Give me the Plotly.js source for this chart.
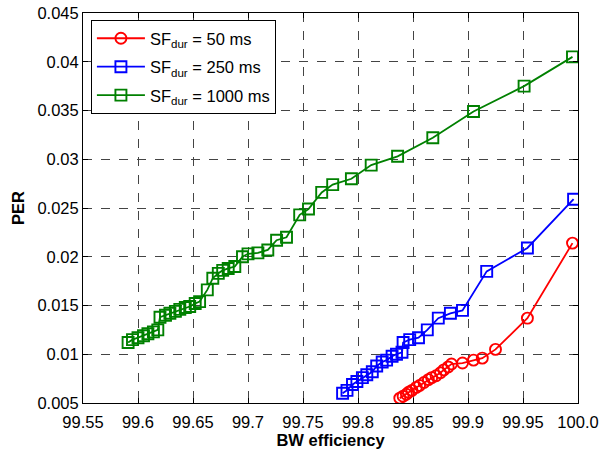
<!DOCTYPE html>
<html>
<head>
<meta charset="utf-8">
<script src="https://cdn.plot.ly/plotly-3.0.1.min.js"></script>
<style>html,body{margin:0;padding:0;background:#fff;}#chart{width:607px;height:449px;}</style>
</head>
<body>
<div id="chart"></div>
<script>
// SF_dur = 50 ms
const redX = [99.838, 99.841, 99.844, 99.846, 99.849, 99.853, 99.856, 99.860, 99.864, 99.867, 99.871, 99.875, 99.878, 99.882, 99.885, 99.895, 99.905, 99.913, 99.925, 99.954, 99.995];
const redY = [0.0055, 0.0057, 0.0059, 0.0061, 0.0063, 0.0066, 0.0068, 0.0071, 0.0074, 0.0076, 0.0078, 0.0081, 0.0084, 0.0087, 0.0090, 0.0091, 0.0094, 0.0096, 0.0105, 0.0137, 0.0214];
// SF_dur = 250 ms
const blueX = [99.786, 99.790, 99.795, 99.799, 99.804, 99.808, 99.813, 99.817, 99.822, 99.826, 99.831, 99.835, 99.840, 99.841, 99.847, 99.855, 99.863, 99.873, 99.884, 99.895, 99.917, 99.954, 99.996];
const blueY = [0.0060, 0.0063, 0.0069, 0.0072, 0.0076, 0.0079, 0.0082, 0.0088, 0.0092, 0.0094, 0.0098, 0.0100, 0.0102, 0.0112, 0.0115, 0.0117, 0.0125, 0.0137, 0.0142, 0.0145, 0.0185, 0.0209, 0.0259];
// SF_dur = 1000 ms
const greenX = [99.591, 99.595, 99.600, 99.605, 99.609, 99.614, 99.618, 99.620, 99.625, 99.629, 99.634, 99.638, 99.643, 99.647, 99.652, 99.656, 99.663, 99.668, 99.673, 99.677, 99.682, 99.688, 99.695, 99.700, 99.709, 99.718, 99.726, 99.735, 99.747, 99.755, 99.767, 99.777, 99.794, 99.812, 99.836, 99.868, 99.905, 99.951, 99.995];
const greenY = [0.0112, 0.0115, 0.0117, 0.0119, 0.0121, 0.0123, 0.0125, 0.0138, 0.0140, 0.0142, 0.0144, 0.0146, 0.0148, 0.0149, 0.0152, 0.0154, 0.0166, 0.0178, 0.0183, 0.0186, 0.0188, 0.0190, 0.0200, 0.0203, 0.0204, 0.0207, 0.0217, 0.0220, 0.0243, 0.0249, 0.0266, 0.0274, 0.0280, 0.0294, 0.0303, 0.0322, 0.0349, 0.0375, 0.0405];

const seriesNames = ['SF<sub>dur</sub> = 50 ms', 'SF<sub>dur</sub> = 250 ms', 'SF<sub>dur</sub> = 1000 ms'];
const xTickVals = [99.55, 99.6, 99.65, 99.7, 99.75, 99.8, 99.85, 99.9, 99.95, 100.0];
const xTickText = ['99.55', '99.6', '99.65', '99.7', '99.75', '99.8', '99.85', '99.9', '99.95', '100.0'];
const yTickVals = [0.005, 0.01, 0.015, 0.02, 0.025, 0.03, 0.035, 0.04, 0.045];
const yTickText = ['0.005', '0.01', '0.015', '0.02', '0.025', '0.03', '0.035', '0.04', '0.045'];

function tr(x, y, name, color, symbol, group) {
  return {
    x: x, y: y, name: name, type: 'scatter', mode: 'lines+markers', legendgroup: group,
    line: {color: color, width: 1.8},
    marker: {symbol: symbol, size: 11, color: color, line: {color: color, width: 1.9}}
  };
}

const data = [
  tr(redX, redY, seriesNames[0], '#ff0000', 'circle-open', 'g1'),
  tr(blueX, blueY, seriesNames[1], '#0000ff', 'square-open', 'g2'),
  tr(greenX, greenY, seriesNames[2], '#008000', 'square-open', 'g3')
];

const FONT = 'Liberation Sans, Arial, Helvetica, sans-serif';
const axisCommon = {
  showline: true, linecolor: '#000', linewidth: 1, mirror: 'ticks',
  ticks: 'inside', ticklen: 5, tickcolor: '#000', tickwidth: 1,
  showgrid: true, gridcolor: '#444', griddash: 'dash', gridwidth: 1,
  zeroline: false, tickfont: {family: FONT, size: 16.5, color: '#000'}
};

const layout = {
  width: 607, height: 449,
  margin: {l: 83, r: 29, t: 13, b: 46},
  paper_bgcolor: '#fff', plot_bgcolor: '#fff',
  showlegend: true,
  font: {family: FONT, color: '#000'},
  xaxis: Object.assign({}, axisCommon, {
    range: [99.55, 100.0], tickmode: 'array', tickvals: xTickVals, ticktext: xTickText,
    ticklabelstandoff: 4,
    title: {text: '<b>BW efficiency</b>', font: {family: FONT, size: 16.5, color: '#000'}, standoff: 0}
  }),
  yaxis: Object.assign({}, axisCommon, {
    range: [0.005, 0.045], tickmode: 'array', tickvals: yTickVals, ticktext: yTickText,
    title: {text: '<b>PER</b>', font: {family: FONT, size: 16.5, color: '#000'}, standoff: 8}
  }),
  legend: {
    x: 0.016, y: 0.982, xanchor: 'left', yanchor: 'top',
    bgcolor: '#fff', bordercolor: '#000', borderwidth: 1,
    font: {family: FONT, size: 16.5, color: '#000'}, itemwidth: 48, tracegroupgap: 4
  }
};

Plotly.newPlot('chart', data, layout, {displayModeBar: false, staticPlot: true});
</script>
</body>
</html>
